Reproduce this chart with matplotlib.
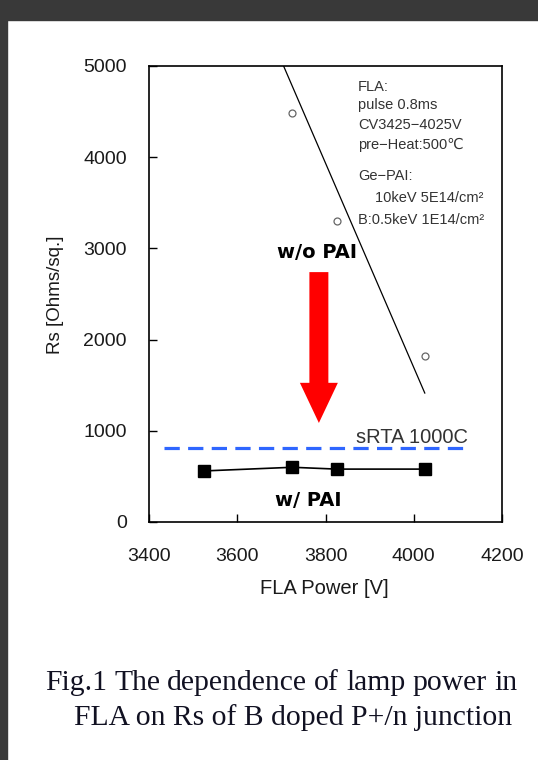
import numpy as np
import matplotlib
matplotlib.use("Agg")
import matplotlib.pyplot as plt
from matplotlib.patches import Rectangle

# FLA power sweep, sheet resistance
power_no_pai = [3725, 3825, 4025]
rs_no_pai = [4480, 3300, 1820]
power_pai = [3525, 3725, 3825, 4025]
rs_pai = [560, 600, 580, 580]
# trend line through the w/o PAI points (clipped at the top of the frame)
trend_x = [3705, 4025]
trend_y = [5000, 1414]
# spike RTA reference level
srta_x = [3435, 4120]
srta_y = 810

x_ticks = [3400, 3600, 3800, 4000, 4200]
y_ticks = [0, 1000, 2000, 3000, 4000, 5000]

W, H = 538, 760
plt.rcParams['font.family'] = ['Liberation Sans', 'DejaVu Sans']
plt.rcParams['lines.scale_dashes'] = False


def px(x, y):
    return x / W, 1 - y / H


fig = plt.figure(figsize=(W / 100, H / 100), dpi=100)
fig.patch.set_facecolor('white')

# dark viewer frame around the page
fig.patches.append(Rectangle((0, 1 - 20 / H), 1, 20 / H, transform=fig.transFigure,
                             color='#393939', zorder=0))
fig.patches.append(Rectangle((0, 0), 7 / W, 1, transform=fig.transFigure,
                             color='#393939', zorder=0))

l, b = px(149, 522)
r, t = px(502, 66)
ax = fig.add_axes([l, b, r - l, t - b])

ax.plot(trend_x, trend_y, color='black', lw=0.9, zorder=3)
ax.plot(power_no_pai, rs_no_pai, 'o', ms=5, mfc='white', mec='#666666', mew=0.9, zorder=4)
ax.plot(power_pai, rs_pai, '-s', color='black', lw=1.2, ms=8.5, zorder=4)
ax.plot(srta_x, [srta_y, srta_y], color='#2f66ff', lw=2.3, dashes=(11, 6), zorder=3)

# red arrow: w/o PAI -> w/ PAI
ax.arrow(3785, 2740, 0, 1086 - 2740, width=43, head_width=86, head_length=440,
         length_includes_head=True, color='#ff0000', lw=0, zorder=5)

bold = dict(family='DejaVu Sans', fontweight='bold', fontsize=14, color='black',
            ha='center', va='center')
ax.text(3780, 2950, 'w/o PAI', **bold)
ax.text(3762, 235, 'w/ PAI', **bold)
ax.text(3868, 925, 'sRTA 1000C', fontsize=14.5, ha='left', va='center', color='#333333')

ax.set_xlim(3400, 4200)
ax.set_ylim(0, 5000)
ax.set_xticks(x_ticks)
ax.set_yticks(y_ticks)
ax.tick_params(direction='in', length=6, width=1, labelsize=14, pad=16, colors='black',
               labelcolor='#1a1a1a')
ax.tick_params(axis='x', pad=19)
for s in ax.spines.values():
    s.set_linewidth(1.2)

fig.text(*px(324, 588), 'FLA Power [V]', fontsize=14.5, ha='center', va='center', color='#1a1a1a')
fig.text(*px(56, 295), 'Rs [Ohms/sq.]', fontsize=13.5, rotation=90, ha='center', va='center',
         color='#1a1a1a')

# process conditions
notes = [
    (358, 87, 'FLA:'),
    (358, 105, 'pulse 0.8ms'),
    (358, 125, 'CV3425\u22124025V'),
    (358, 145, 'pre\u2212Heat:500\u2103'),
    (358, 176, 'Ge\u2212PAI:'),
    (375, 198, '10keV 5E14/cm\u00b2'),
    (358, 220, 'B:0.5keV 1E14/cm\u00b2'),
]
for x, y, s in notes:
    fig.text(*px(x, y), s, fontsize=10.5, ha='left', va='center', color='#333333')

# caption, first line justified
cap_font = dict(family='Liberation Serif', fontsize=21.3, color='#111122')
words = 'Fig.1 The dependence of lamp power in'.split()
fig.canvas.draw()
rend = fig.canvas.get_renderer()
widths = []
for w in words:
    tt = fig.text(0, 0, w, **cap_font)
    widths.append(tt.get_window_extent(rend).width)
    tt.remove()
x0, x1 = 45, 517
gap = (x1 - x0 - sum(widths)) / (len(words) - 1)
x = x0
for w, wd in zip(words, widths):
    fig.text(*px(x, 683), w, ha='left', va='center', **cap_font)
    x += wd + gap
fig.text(*px(74, 718), 'FLA on Rs of B doped P+/n junction', ha='left', va='center', **cap_font)

fig.savefig('out.png', dpi=100, facecolor='white')
